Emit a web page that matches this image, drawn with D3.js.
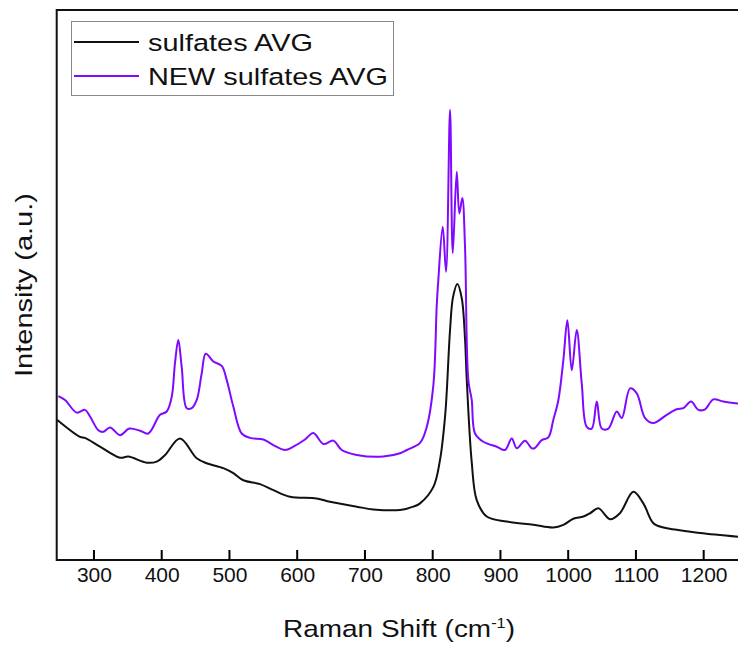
<!DOCTYPE html>
<html>
<head>
<meta charset="utf-8">
<script src="https://cdn.jsdelivr.net/npm/d3@7"></script>
<style>
  body { margin: 0; background: #fff; }
  svg text { font-family: "Liberation Sans", Arial, sans-serif; fill: #111; }
</style>
</head>
<body>
<div id="chart"></div>
<script>
// data (x = Raman shift in cm-1, y = intensity in arbitrary units)
const seriesNames = ["sulfates AVG", "NEW sulfates AVG"];
const seriesColors = ["#111111", "#7f0aff"];

const avgX = [245.4, 279.4, 286.8, 308.9, 338.4, 350.7, 377.9, 392.6, 404.9, 427.0, 451.7, 466.4, 490.9, 505.7,
  520.5, 545.1, 564.8, 589.4, 628.8, 648.4, 687.9, 712.4, 751.8, 771.4, 781.3, 801.0, 810.8, 818.2, 820.7, 825.6,
  830.0, 836.4, 842.9, 847.8, 850.0, 857.6, 865.0, 879.8, 909.3, 948.6, 978.1, 992.9, 1007.6, 1022.4, 1032.3,
  1044.5, 1061.8, 1076.3, 1096.2, 1110.9, 1125.7, 1140.5, 1160.2, 1194.6, 1253.0];
const avgY = [25.5, 22.4, 22.2, 20.6, 18.6, 18.8, 17.7, 17.9, 19.1, 22.1, 18.5, 17.6, 16.7, 15.8,
  14.5, 13.8, 12.7, 11.5, 11.2, 10.6, 9.7, 9.2, 9.1, 9.7, 10.3, 13.3, 18.2, 26.0, 30.5, 41.8,
  47.8, 50.2, 47.6, 40.0, 33.5, 17.8, 10.9, 7.9, 7.0, 6.4, 5.9, 6.4, 7.5, 7.9, 8.5,
  9.4, 7.4, 8.5, 12.4, 10.3, 6.7, 5.9, 5.5, 4.9, 4.2];

const newX = [247.4, 257.3, 274.5, 286.8, 294.2, 306.4, 313.8, 323.7, 338.4, 352.2, 368.0, 380.2, 397.5, 407.4,
  414.8, 419.6, 424.5, 429.5, 436.9, 444.3, 451.7, 459.0, 465.0, 476.2, 488.6, 496.0, 505.7, 518.1, 530.4, 550.0,
  564.8, 582.0, 594.3, 611.5, 623.8, 638.6, 653.3, 665.7, 687.9, 727.1, 751.8, 761.7, 781.3, 791.2, 801.0, 806.0,
  808.3, 814.8, 819.7, 825.6, 829.6, 835.5, 839.3, 843.7, 847.7, 852.6, 857.6, 862.5, 874.7, 894.5, 906.8, 916.7,
  924.1, 936.3, 946.2, 951.1, 961.0, 970.7, 978.1, 985.5, 992.9, 998.8, 1005.3, 1012.6, 1020.0, 1027.4, 1034.8,
  1042.2, 1049.5, 1059.3, 1071.7, 1079.1, 1091.3, 1101.2, 1113.5, 1125.7, 1145.5, 1160.2, 1170.0, 1181.4, 1192.1,
  1202.0, 1214.3, 1229.1, 1253.0];
const newY = [29.8, 29.1, 26.8, 27.3, 26.1, 23.6, 23.3, 24.1, 22.7, 23.9, 23.5, 23.0, 26.4, 27.0,
  29.7, 35.8, 40.0, 35.1, 27.6, 27.6, 29.1, 33.9, 37.5, 36.1, 35.3, 32.7, 27.9, 23.0, 22.2, 21.9,
  20.9, 20.0, 20.6, 21.9, 23.1, 21.1, 21.7, 20.0, 19.1, 18.8, 19.4, 20.0, 21.3, 24.2, 31.8, 46.4,
  50.9, 60.6, 52.4, 81.8, 55.8, 70.6, 63.0, 65.8, 57.0, 32.7, 29.1, 23.0, 21.5, 20.6, 20.0, 22.1,
  20.3, 21.7, 20.3, 20.4, 21.8, 22.3, 25.5, 29.1, 36.4, 43.6, 34.5, 41.8, 32.1, 24.2, 23.9,
  28.8, 23.9, 23.9, 27.0, 25.8, 31.2, 30.3, 25.8, 24.9, 26.4, 27.4, 27.6, 28.8, 27.3,
  27.4, 29.2, 28.8, 28.4];

const xTicks = [300, 400, 500, 600, 700, 800, 900, 1000, 1100, 1200];

const W = 738, H = 645;
const plot = { left: 56.7, right: 740, top: 10, bottom: 560 };

const svg = d3.select("#chart").append("svg")
  .attr("width", W)
  .attr("height", H);

const x = d3.scaleLinear().domain([245, 1253.6]).range([plot.left, plot.right]);
const y = d3.scaleLinear().domain([0, 100]).range([plot.bottom, plot.top]);

// scale a text element horizontally so it spans the given width
function stretchTo(sel, width, ax, ay) {
  const w = sel.node().getBBox().width;
  const k = width / w;
  sel.attr("transform", `translate(${ax},${ay}) scale(${k},1) translate(${-ax},${-ay})`);
}

svg.append("clipPath").attr("id", "clip")
  .append("rect")
  .attr("x", plot.left).attr("y", plot.top)
  .attr("width", plot.right - plot.left).attr("height", plot.bottom - plot.top);

const line = d3.line()
  .x(d => x(d[0]))
  .y(d => y(d[1]))
  .curve(d3.curveCatmullRom.alpha(0.5));

const series = [
  { name: seriesNames[0], color: seriesColors[0], pts: avgX.map((v, i) => [v, avgY[i]]) },
  { name: seriesNames[1], color: seriesColors[1], pts: newX.map((v, i) => [v, newY[i]]) }
];

svg.append("g").attr("clip-path", "url(#clip)")
  .selectAll("path")
  .data(series)
  .join("path")
  .attr("fill", "none")
  .attr("stroke", d => d.color)
  .attr("stroke-width", 2)
  .attr("stroke-linejoin", "round")
  .attr("d", d => line(d.pts));

// frame
svg.append("rect")
  .attr("x", plot.left).attr("y", plot.top)
  .attr("width", plot.right - plot.left).attr("height", plot.bottom - plot.top)
  .attr("fill", "none")
  .attr("stroke", "#111")
  .attr("stroke-width", 2);

// bottom axis labels
const xAxis = svg.append("g")
  .attr("transform", `translate(0,${plot.bottom})`)
  .call(d3.axisBottom(x).tickValues(xTicks).tickFormat(d3.format("d")).tickSize(0));
xAxis.select(".domain").remove();
xAxis.selectAll(".tick text")
  .attr("y", 22)
  .attr("dy", 0)
  .style("font-size", "21px")
  .style("font-family", "'Liberation Sans', Arial, sans-serif")
  .attr("fill", "#111");

// inward tick marks
svg.append("g")
  .selectAll("line")
  .data(xTicks)
  .join("line")
  .attr("x1", d => x(d)).attr("x2", d => x(d))
  .attr("y1", plot.bottom).attr("y2", plot.bottom - 10)
  .attr("stroke", "#000")
  .attr("stroke-width", 2);

// axis titles
const xt = svg.append("text")
  .attr("x", 399)
  .attr("y", 637)
  .attr("text-anchor", "middle")
  .style("font-size", "24px");
xt.append("tspan").text("Raman Shift (cm");
xt.append("tspan").text("-1").attr("dy", -9).style("font-size", "14px");
xt.append("tspan").text(")").attr("dy", 9);
stretchTo(xt, 232, 399, 637);

const yt = svg.append("text")
  .attr("transform", "rotate(-90)")
  .attr("x", -285)
  .attr("y", 32)
  .attr("text-anchor", "middle")
  .style("font-size", "24.5px")
  .text("Intensity (a.u.)");
yt.attr("textLength", 184).attr("lengthAdjust", "spacingAndGlyphs");

// legend
const legend = svg.append("g");
legend.append("rect")
  .attr("x", 71.5).attr("y", 21.5)
  .attr("width", 322).attr("height", 74)
  .attr("fill", "#fff")
  .attr("stroke", "#888")
  .attr("stroke-width", 1);

const rowY = [42, 76];
const textW = [165, 240];
series.forEach((s, i) => {
  legend.append("line")
    .attr("x1", 74).attr("x2", 139)
    .attr("y1", rowY[i]).attr("y2", rowY[i])
    .attr("stroke", s.color)
    .attr("stroke-width", 2);
  legend.append("text")
    .attr("x", 148)
    .attr("y", rowY[i] + 9)
    .style("font-size", "24.5px")
    .attr("textLength", textW[i])
    .attr("lengthAdjust", "spacingAndGlyphs")
    .text(s.name);
});
</script>
</body>
</html>
